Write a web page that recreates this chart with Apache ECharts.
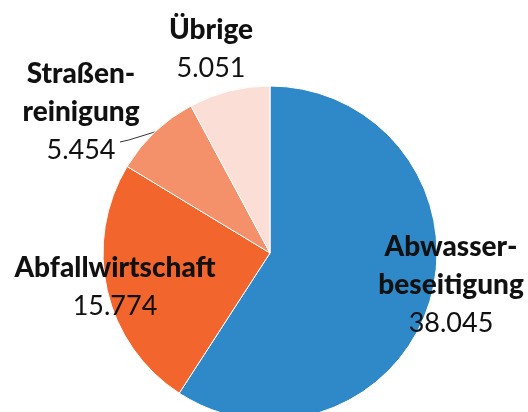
<!DOCTYPE html>
<html>
<head>
<meta charset="utf-8">
<script src="https://cdn.jsdelivr.net/npm/echarts@6/dist/echarts.min.js"></script>
<style>
  html, body { margin: 0; padding: 0; background: #fff; }
  #chart { width: 528px; height: 412px; }
</style>
</head>
<body>
<div id="chart"></div>
<script>
var categories = ['Abwasser-\nbeseitigung', 'Abfallwirtschaft', 'Straßen-\nreinigung', 'Übrige'];
var values = [38045, 15774, 5454, 5051];
var colors = ['#2f89c8', '#f2652c', '#f4906a', '#fbdfd6'];

// where each label block sits (centre of the text)
var labelPos = [[451, 285], [115, 287], [81, 112], [211, 49]];

var cx = 270, cy = 253, r = 167;

function fmt(v) {
    return String(v).replace(/\B(?=(\d{3})+(?!\d))/g, '.');
}

// point on the rim at the middle of slice i (clockwise from 12 o'clock)
function rimMid(i) {
    var total = values.reduce(function (a, b) { return a + b; }, 0);
    var before = 0;
    for (var k = 0; k < i; k++) before += values[k];
    var ang = (before + values[i] / 2) / total * Math.PI * 2;
    return [cx + r * Math.sin(ang), cy - r * Math.cos(ang)];
}

var chart = echarts.init(document.getElementById('chart'));

var option = {
    animation: false,
    series: [{
        type: 'pie',
        center: [cx, cy],
        radius: r,
        startAngle: 90,
        clockwise: true,
        itemStyle: {
            borderColor: '#fff',
            borderWidth: 1
        },
        label: {
            show: true,
            position: 'outside',
            align: 'center',
            verticalAlign: 'middle',
            overflow: 'none',
            width: 220,
            formatter: function (p) {
                var lines = p.name.split('\n').map(function (s) { return '{b|' + s + '}'; });
                return lines.join('\n') + '\n{v|' + fmt(p.value) + '}';
            },
            rich: {
                b: {
                    fontFamily: 'Lato',
                    fontWeight: 900,
                    fontSize: 28,
                    lineHeight: 38,
                    color: '#111',
                    align: 'center'
                },
                v: {
                    fontFamily: 'Lato',
                    fontSize: 27,
                    lineHeight: 38,
                    color: '#111',
                    align: 'center'
                }
            }
        },
        labelLine: {
            show: false
        },
        labelLayout: function (params) {
            var i = params.dataIndex;
            var p = labelPos[i];
            var out = { x: p[0], y: p[1], align: 'center', verticalAlign: 'middle' };
            if (i === 2) {
                var s = rimMid(i);
                out.labelLinePoints = [s, [s[0] - 26, s[1] + 8], [p[0] + 39, p[1] + 30]];
            }
            return out;
        },
        data: categories.map(function (c, i) {
            var d = { name: c, value: values[i], itemStyle: { color: colors[i] } };
            if (i === 2) {
                d.labelLine = { show: true, lineStyle: { color: '#333', width: 1 } };
            }
            return d;
        })
    }]
};

chart.setOption(option);

window.onresize = function () {
    chart.resize();
};
</script>
</body>
</html>
